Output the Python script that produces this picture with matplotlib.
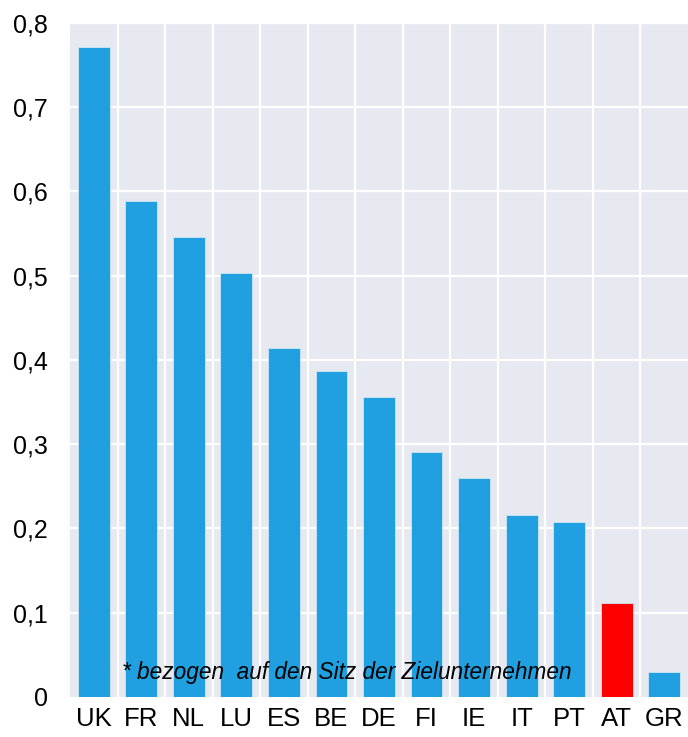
import matplotlib.pyplot as plt

# Länder und Werte
countries = ["UK", "FR", "NL", "LU", "ES", "BE", "DE", "FI", "IE", "IT", "PT", "AT", "GR"]
values = [0.771, 0.589, 0.546, 0.503, 0.414, 0.387, 0.356, 0.291, 0.260, 0.216, 0.208, 0.112, 0.030]
yticks = [0, 0.1, 0.2, 0.3, 0.4, 0.5, 0.6, 0.7, 0.8]
ytick_labels = ["0", "0,1", "0,2", "0,3", "0,4", "0,5", "0,6", "0,7", "0,8"]
highlight = "AT"
note = "* bezogen  auf den Sitz der Zielunternehmen"

blue = "#20a0e0"
red = "#ff0000"
bg = "#e7e9f1"

plt.rcParams["font.family"] = ["Liberation Sans", "DejaVu Sans"]

fig = plt.figure(figsize=(6.88, 7.37), dpi=100)
ax = fig.add_axes([0.1017, 0.0543, 0.8983, 0.9145])
ax.set_facecolor(bg)

x = list(range(len(countries)))
colors = [red if c == highlight else blue for c in countries]
ax.bar(x, values, width=0.67, color=colors, edgecolor="#cfe6f5", linewidth=0.6, zorder=3)

ax.set_xlim(-0.5, len(countries) - 0.5)
ax.set_ylim(0, 0.8)
ax.set_yticks(yticks)
ax.set_yticklabels(ytick_labels)
ax.set_xticks(x)
ax.set_xticklabels(countries)

# Gitter: horizontal an den Ticks, vertikal zwischen den Kategorien
for y in yticks[1:]:
    ax.axhline(y, color="white", linewidth=1.6, zorder=1)
for b in range(1, len(countries)):
    ax.axvline(b - 0.5, color="white", linewidth=1.6, zorder=1)

for s in ax.spines.values():
    s.set_visible(False)
ax.tick_params(axis="y", length=0, pad=16, labelsize=18)
ax.tick_params(axis="x", length=0, pad=7.5, labelsize=18.5)

ax.text(0.6, 0.0285, note, fontsize=16.3, style="italic", ha="left", va="center", zorder=4)

fig.savefig("out.png", dpi=100)
